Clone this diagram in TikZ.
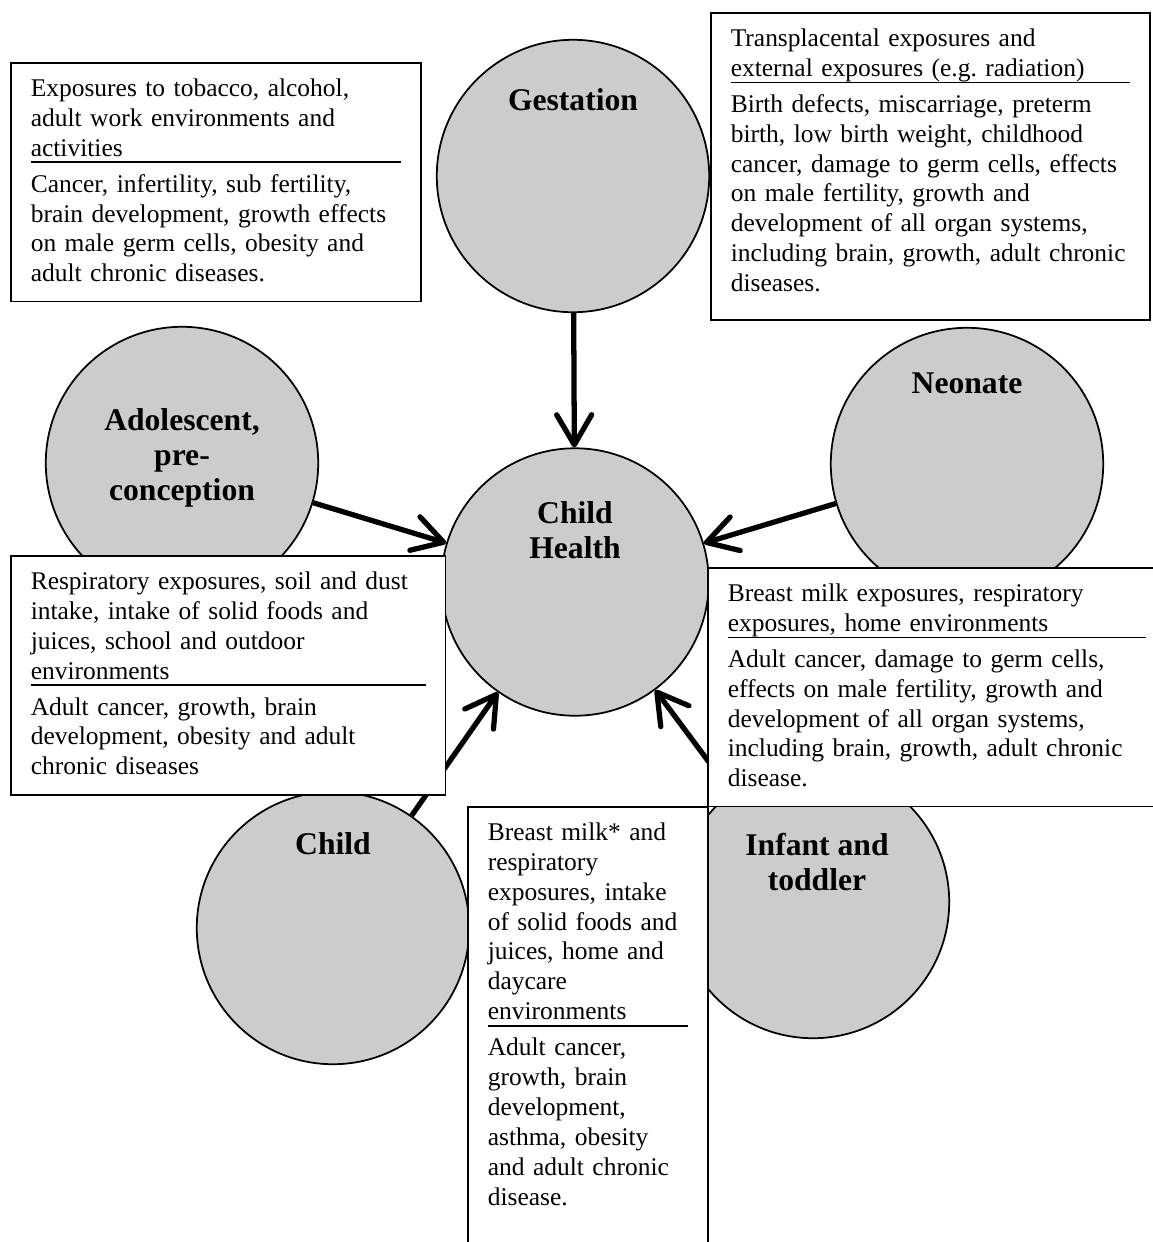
\documentclass[tikz,border=0pt]{standalone}
\usepackage{fontspec}
\setmainfont{Liberation Serif}
\usetikzlibrary{arrows.meta}
\frenchspacing
\newcommand{\divider}{\par\vskip-\prevdepth\vskip3pt\hrule height 1pt\vskip-0.5pt\prevdepth=0pt\relax}
\newcommand{\boxfoot}[1]{\rule[-#1]{0pt}{#1}}
\begin{document}
\begin{tikzpicture}[x = 0.02cm, y = -0.02cm,
    stage/.style = {draw, circle, fill=black!20, line width=1pt, minimum size=5.45cm, inner sep=0},
    stagetext/.style = {font=\fontsize{18}{20}\selectfont\bfseries, align=center},
    infobox/.style = {draw, fill=white, line width=0.9pt, anchor=north west, align=left, inner xsep=0.4cm, inner ysep=0.32cm, font=\fontsize{14.5}{17}\selectfont},
    arr/.style = {line width=3pt, -{Straight Barb[length=0.6cm, width=0.7cm, round]}}]
    \path[use as bounding box, clip] (0,0) rectangle (1153,1242);
    \node[stage] (gest) at (573,176) {};
    \node[stage, minimum size=5.35cm] (health) at (575,582) {};
    \node[stage] (neo) at (967,464) {};
    \node[stage] (adol) at (182,463) {};
    \node[stage] (child) at (333,928) {};
    \node[stage] (infant) at (813,902) {};
    \node[stagetext] (gesttxt) at (573,100) {Gestation};
    \node[stagetext] (healthtxt) at (575,530) {Child\\ Health};
    \node[stagetext] (neotxt) at (967,383) {Neonate};
    \node[stagetext] (adoltxt) at (182,458) {Adolescent,\\ pre-\\ conception};
    \node[stagetext] (childtxt) at (333,844) {Child};
    \node[stagetext] (infanttxt) at (817,862) {Infant and\\ toddler};
    \draw[arr] (gest) -- (health);
    \draw[arr] (adol) -- (health);
    \draw[arr] (neo) -- (health);
    \draw[arr] (child) -- (health);
    \draw[arr] (infant) -- (health);
    \node[infobox, text width=7.4cm] (adolbox) at (10,62) {Exposures to tobacco, alcohol,\\ adult work environments and\\ activities\divider Cancer, infertility, sub fertility,\\ brain development, growth effects\\ on male germ cells, obesity and\\ adult chronic diseases.\boxfoot{2pt}};
    \node[infobox, text width=7.98cm] (gestbox) at (710,12) {Transplacental exposures and\\ external exposures (e.g. radiation)\divider Birth defects, miscarriage, preterm\\ birth, low birth weight, childhood\\ cancer, damage to germ cells, effects\\ on male fertility, growth and\\ development of all organ systems,\\ including brain, growth, adult chronic\\ diseases.\boxfoot{7pt}};
    \node[infobox, text width=7.9cm] (childbox) at (10,555) {Respiratory exposures, soil and dust\\ intake, intake of solid foods and\\ juices, school and outdoor\\ environments\divider Adult cancer, growth, brain\\ development, obesity and adult\\ chronic diseases\boxfoot{2.5pt}};
    \node[infobox, text width=8.36cm] (neobox) at (707,567) {Breast milk exposures, respiratory\\ exposures, home environments\divider Adult cancer, damage to germ cells,\\ effects on male fertility, growth and\\ development of all organ systems,\\ including brain, growth, adult chronic\\ disease.\boxfoot{2pt}};
    \node[infobox, text width=4cm] (infantbox) at (467,806) {Breast milk* and\\ respiratory\\ exposures, intake\\ of solid foods and\\ juices, home and\\ daycare\\ environments\divider Adult cancer,\\ growth, brain\\ development,\\ asthma, obesity\\ and adult chronic\\ disease.\boxfoot{40pt}};
\end{tikzpicture}
\end{document}
